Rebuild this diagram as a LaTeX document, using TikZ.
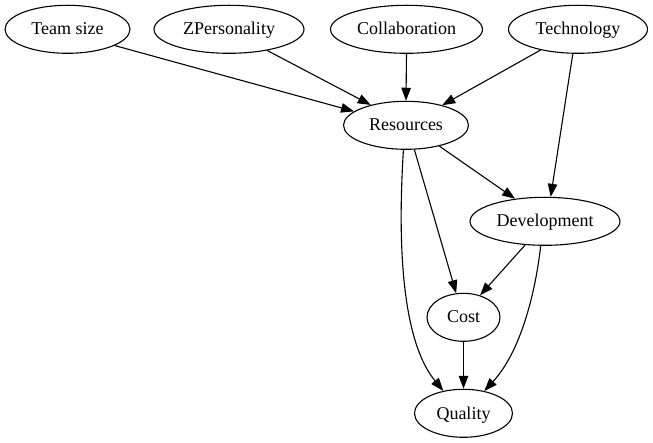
\documentclass[tikz,border=0pt]{standalone}
\usepackage{fontspec}
\setmainfont{Liberation Serif}
\usetikzlibrary{shapes.geometric,arrows.meta}
\begin{document}
\begin{tikzpicture}[x=1pt,y=-1pt,
  gnode/.style={draw,ellipse,line width=1.1pt,inner sep=0pt,minimum height=48pt,
    font=\fontsize{18}{20}\selectfont,text height=13pt,text depth=1.6pt},
  conn/.style={draw,line width=1.1pt,-{Triangle[length=13pt,width=9.5pt]}}]
\useasboundingbox (0,0) rectangle (653,443);
\node[gnode,minimum width=125pt] (ts)   at (67.5,29.3)  {Team size};
\node[gnode,minimum width=150pt] (zp)   at (229,29.3)   {ZPersonality};
\node[gnode,minimum width=152pt] (col)  at (406.5,29.3) {Collaboration};
\node[gnode,minimum width=139pt] (tech) at (578,29.3)   {Technology};
\node[gnode,minimum width=125pt] (res)  at (406,125.3)  {Resources};
\node[gnode,minimum width=150pt] (dev)  at (545,221.3)  {Development};
\node[gnode,minimum width=73pt]  (cost) at (463.5,317.3) {Cost};
\node[gnode,minimum width=98pt]  (qual) at (463.5,413.3) {Quality};

\draw[conn] (ts.-19.3) -- (res.165.2);
\draw[conn] (zp.-29.6) -- (res.150.2);
\draw[conn] (col.south) -- (res.north);
\draw[conn] (tech.209.7) -- (res.29.3);
\draw[conn] (tech.258.1) -- (dev.77.9);
\draw[conn] (res.-32) -- (dev.143);
\draw[conn] (res.-71) -- (cost.107.8);
\draw[conn] (res.-96.7) .. controls +(-7,111) and +(-38,-46) .. (qual.132.6);
\draw[conn] (dev.230.3) -- (cost.53.1);
\draw[conn] (dev.-100) .. controls +(-5,45) and +(37,-40) .. (qual.47.3);
\draw[conn] (cost.south) -- (qual.north);
\end{tikzpicture}
\end{document}
